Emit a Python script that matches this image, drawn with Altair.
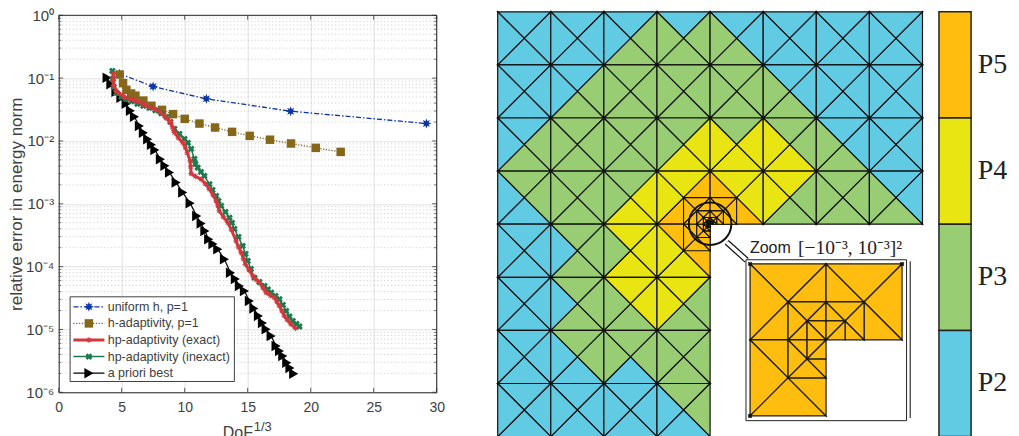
import altair as alt
import pandas as pd

# ---------- left chart values (x = DoF^(1/3), log10 of the relative error) ----------
uniform_x = [4.82, 7.49, 11.72, 18.41, 29.18]
uniform_l = [-0.93, -1.134, -1.33, -1.526, -1.723]
hadapt_x = [4.84, 5.11, 5.37, 5.75, 6.09, 6.72, 7.36, 8.2, 9.08, 10.0, 11.17, 12.41, 13.76, 15.16, 16.77, 18.44, 20.4, 22.38]
hadapt_l = [-0.943, -1.08, -1.186, -1.245, -1.28, -1.357, -1.44, -1.505, -1.573, -1.648, -1.723, -1.786, -1.855, -1.919, -1.98, -2.04, -2.11, -2.174]
exact_x = [4.34, 4.34, 4.38, 4.56, 4.82, 5.21, 5.61, 6.01, 6.40, 6.80, 7.20, 7.60, 7.99, 8.39, 8.63, 8.87, 9.02, 9.18, 9.5, 9.84, 10.06, 10.21, 10.43, 10.47, 10.51, 10.85, 11.30, 11.64, 11.96, 12.24, 12.49, 12.63, 12.75, 13.07, 13.41, 13.71, 14.08, 14.26, 14.48, 14.66, 14.82, 15.10, 15.40, 15.65, 15.93, 16.21, 16.46, 16.80, 17.12, 17.32, 17.52, 17.71, 17.91, 18.15, 18.44, 18.79]
exact_l = [-0.927, -1.043, -1.123, -1.202, -1.25, -1.298, -1.33, -1.35, -1.385, -1.425, -1.457, -1.494, -1.537, -1.60, -1.648, -1.707, -1.775, -1.866, -1.951, -2.025, -2.11, -2.19, -2.317, -2.412, -2.519, -2.564, -2.608, -2.683, -2.768, -2.858, -2.954, -3.033, -3.113, -3.209, -3.299, -3.416, -3.591, -3.686, -3.777, -3.877, -3.962, -4.053, -4.148, -4.204, -4.255, -4.339, -4.414, -4.459, -4.494, -4.562, -4.626, -4.705, -4.785, -4.849, -4.917, -4.981]
inexact_x = [4.26, 4.30, 4.38, 4.58, 4.98, 5.35, 5.77, 6.25, 6.72, 7.20, 7.67, 8.15, 8.55, 8.87, 9.18, 9.58, 9.98, 10.25, 10.51, 10.77, 10.85, 11.03, 11.29, 11.56, 11.96, 12.2, 12.49, 12.67, 12.89, 13.23, 13.55, 13.75, 13.94, 14.26, 14.6, 14.82, 15.0, 15.25, 15.53, 15.93, 16.33, 16.6, 16.86, 17.2, 17.52, 17.79, 18.05, 18.31, 18.57, 18.87, 19.1]
inexact_l = [-0.884, -1.011, -1.139, -1.234, -1.298, -1.334, -1.369, -1.409, -1.441, -1.473, -1.513, -1.561, -1.616, -1.696, -1.807, -1.887, -1.967, -2.03, -2.126, -2.285, -2.365, -2.424, -2.492, -2.556, -2.688, -2.779, -2.874, -2.954, -3.033, -3.129, -3.22, -3.304, -3.4, -3.527, -3.67, -3.798, -3.909, -4.037, -4.175, -4.244, -4.307, -4.363, -4.414, -4.467, -4.519, -4.61, -4.705, -4.793, -4.865, -4.912, -4.952]
best_x = [3.84, 4.14, 4.54, 4.94, 5.35, 5.69, 6.01, 6.40, 6.72, 7.06, 7.36, 7.63, 8.07, 8.43, 8.79, 9.32, 9.84, 10.43, 10.95, 11.3, 11.6, 11.9, 12.24, 12.62, 13.15, 13.63, 14.02, 14.34, 14.74, 15.13, 15.49, 15.85, 16.17, 16.46, 16.86, 17.25, 17.52, 17.78, 18.1, 18.35, 18.65]
best_l = [-0.995, -1.099, -1.218, -1.314, -1.409, -1.521, -1.616, -1.76, -1.871, -1.971, -2.062, -2.142, -2.29, -2.396, -2.503, -2.662, -2.822, -2.99, -3.193, -3.315, -3.432, -3.564, -3.639, -3.723, -3.882, -4.096, -4.196, -4.307, -4.387, -4.546, -4.666, -4.785, -4.896, -4.997, -5.104, -5.263, -5.342, -5.422, -5.529, -5.613, -5.704]

legend_labels = ["uniform h, p=1", "h-adaptivity, p=1", "hp-adaptivity (exact)", "hp-adaptivity (inexact)", "a priori best"]
x_ticks = [0, 5, 10, 15, 20, 25, 30]
y_decades = [1e-6, 1e-5, 1e-4, 1e-3, 1e-2, 1e-1, 1e0]
y_tick_labels = ["10⁻⁶", "10⁻⁵", "10⁻⁴", "10⁻³", "10⁻²", "10⁻¹", "10⁰"]
minor_multipliers = [2, 3, 4, 5, 6, 7, 8, 9]

# ---------- right chart values: polynomial degree of N,E,S,W triangle of each mesh square ----------
mesh_rows = [
    ["2222", "2222", "2332", "2333", "2233", "2222", "2222", "2222"],
    ["2222", "2332", "3333", "3333", "3333", "2233", "2222", "2222"],
    ["2332", "3333", "3333", "3443", "3444", "3344", "2233", "2222"],
    ["3322", "3333", "3443", "4554", "4455", "4334", "3333", "2233"],
    ["2222", "3332", "4443", "5544"],
    ["2222", "3332", "4433", "4334"],
    ["2222", "3322", "3323", "3333"],
    ["2222", "2222", "2222", "3322"],
]
degree_domain = ["2", "3", "4", "5"]
degree_colors = ["#61cbe4", "#98cd73", "#e9e512", "#ffbe0f"]
colorbar_labels = ["P5", "P4", "P3", "P2"]

# one ring of the refined L-shaped corner, in units of its half-size (y upwards)
ring = [
    [(-1, 1), (0, 1), (-.5, .5)], [(-1, 1), (-1, 0), (-.5, .5)], [(0, 1), (0, .5), (-.5, .5)],
    [(0, 1), (.5, .5), (0, .5)], [(0, 1), (1, 1), (.5, .5)], [(1, 1), (1, 0), (.5, .5)],
    [(1, 0), (.5, 0), (.5, .5)], [(-1, 0), (-.5, 0), (-.5, .5)], [(-1, 0), (-.5, 0), (-.5, -.5)],
    [(-1, 0), (-1, -1), (-.5, -.5)], [(-1, -1), (0, -1), (-.5, -.5)], [(0, -1), (0, -.5), (-.5, -.5)],
]
fan = [
    [(-1, 1), (0, 1), (0, 0)], [(-1, 1), (-1, 0), (0, 0)], [(0, 1), (1, 1), (0, 0)],
    [(1, 1), (1, 0), (0, 0)], [(-1, 0), (-1, -1), (0, 0)], [(-1, -1), (0, -1), (0, 0)],
]
main_levels = [.5, .25, .125, .0625, .03125]
inset_levels = [1, .5]

TXT = "#404040"
SANS = "Liberation Sans"
SERIF = "Liberation Serif"
W, H = 378, 377
star = "M0,-1L.2,-.45L.7,-.7L.45,-.2L1,0L.45,.2L.7,.7L.2,.45L0,1L-.2,.45L-.7,.7L-.45,.2L-1,0L-.45,-.2L-.7,-.7L-.2,-.45Z"

x_scale = alt.Scale(domain=[0, 30], nice=False, zero=False)
y_scale = alt.Scale(type="log", domain=[1e-6, 1], nice=False)
one = pd.DataFrame({"a": [0]})
label_expr = "[" + ",".join("'%s'" % s for s in y_tick_labels) + "][round(log(datum.value)/LN10)+6]"
x_axis = alt.Axis(values=x_ticks, grid=True, gridColor="#e2e2e2", gridWidth=1, tickSize=0, labelPadding=8,
                  labelFontSize=14, labelFont=SANS, labelColor=TXT, domainColor="#262626", domainWidth=1,
                  format="d", labelFlush=False, title=None)
y_axis = alt.Axis(values=y_decades, grid=True, gridColor="#e2e2e2", gridWidth=1, tickSize=0, labelPadding=5,
                  labelFontSize=15, labelFont=SANS, labelColor=TXT, domainColor="#262626", domainWidth=1,
                  labelExpr=label_expr, title="relative error in energy norm", titleFont=SANS, titleFontSize=17,
                  titleFontWeight="normal", titleColor=TXT, titlePadding=0, labelFlush=False)
X = alt.X("x:Q", scale=x_scale, axis=x_axis)
Y = alt.Y("y:Q", scale=y_scale, axis=y_axis)


def frame(xs, ls):
    return pd.DataFrame({"x": xs, "y": [10 ** v for v in ls]})


styles = [
    dict(color="#0b36a8", width=1.3, dash=[5, 2, 1.5, 2], shape=star, size=100),
    dict(color="#86671a", width=1.3, dash=[1.2, 1.6], shape="square", size=72),
    dict(color="#d2383c", width=3, dash=[1, 0], shape=star, size=48),
    dict(color="#1c7a4e", width=1.5, dash=[1, 0], shape="cross", size=48),
    dict(color="#000000", width=1.2, dash=[1, 0], shape="triangle-right", size=110),
]
series = [(uniform_x, uniform_l), (hadapt_x, hadapt_l), (exact_x, exact_l), (inexact_x, inexact_l), (best_x, best_l)]

layers = []
minors = [d * m for d in y_decades[:-1] for m in minor_multipliers]
minor_df = pd.DataFrame({"y": minors})
layers.append(alt.Chart(minor_df).mark_rule(color="#b5b5b5", strokeWidth=0.7, strokeDash=[1, 2.5]).encode(
    x=alt.value(0), x2=alt.value(W), y=Y))
for x0, x1 in [(0, 2.5), (W - 2.5, W)]:
    layers.append(alt.Chart(minor_df).mark_rule(color="#333333", strokeWidth=0.7).encode(
        x=alt.value(x0), x2=alt.value(x1), y=Y))
for x0, x1 in [(0, 4.5), (W - 4.5, W)]:
    layers.append(alt.Chart(pd.DataFrame({"y": y_decades})).mark_rule(color="#333333", strokeWidth=0.8).encode(
        x=alt.value(x0), x2=alt.value(x1), y=Y))
for y0, y1 in [(0, 4.5), (H - 4.5, H)]:
    layers.append(alt.Chart(pd.DataFrame({"x": x_ticks})).mark_rule(color="#333333", strokeWidth=0.8).encode(
        y=alt.value(y0), y2=alt.value(y1), x=X))
layers.append(alt.Chart(one).mark_rule(color="#262626", strokeWidth=1).encode(x=alt.value(0), x2=alt.value(W), y=alt.value(0)))
layers.append(alt.Chart(one).mark_rule(color="#262626", strokeWidth=1).encode(x=alt.value(W), y=alt.value(0), y2=alt.value(H)))

for idx in [4, 0, 1, 3, 2]:
    st = styles[idx]
    df = frame(*series[idx])
    layers.append(alt.Chart(df).mark_line(color=st["color"], strokeWidth=st["width"], strokeDash=st["dash"]).encode(x=X, y=Y))
    angle = 45 if st["shape"] == "cross" else 0
    layers.append(alt.Chart(df).mark_point(shape=st["shape"], size=st["size"], filled=True, opacity=1,
                                           color=st["color"], angle=angle).encode(x=X, y=Y))

LX0, LX1, LY0, LY1 = 11.4, 175.7, 281.5, 366.2
layers.append(alt.Chart(one).mark_rect(fill="white", stroke="#404040", strokeWidth=1).encode(
    x=alt.value(LX0), x2=alt.value(LX1), y=alt.value(LY0), y2=alt.value(LY1)))
for i, label in enumerate(legend_labels):
    st = styles[i]
    ly = 291.5 + 16.6 * i
    layers.append(alt.Chart(one).mark_rule(color=st["color"], strokeWidth=st["width"], strokeDash=st["dash"]).encode(
        x=alt.value(14.7), x2=alt.value(45.7), y=alt.value(ly)))
    angle = 45 if st["shape"] == "cross" else 0
    layers.append(alt.Chart(one).mark_point(shape=st["shape"], size=st["size"], filled=True, opacity=1, color=st["color"], angle=angle).encode(
        x=alt.value(30.2), y=alt.value(ly)))
    layers.append(alt.Chart(pd.DataFrame({"t": [label]})).mark_text(align="left", baseline="middle", font=SANS, fontSize=12.5, color=TXT).encode(
        x=alt.value(49), y=alt.value(ly), text="t:N"))

layers.append(alt.Chart(pd.DataFrame({"t": ["DoF"]})).mark_text(align="left", baseline="middle", font=SANS, fontSize=16, color=TXT).encode(
    x=alt.value(164), y=alt.value(417.5), text="t:N"))
layers.append(alt.Chart(pd.DataFrame({"t": ["1/3"]})).mark_text(align="left", baseline="middle", font=SANS, fontSize=13, color=TXT).encode(
    x=alt.value(195), y=alt.value(412), text="t:N"))

left = alt.layer(*layers).properties(width=W, height=H)

# ---------- right panel ----------
proj = dict(type="identity", scale=53.1, translate=[21, -3.5])


def poly(points, **props):
    ring_pts = [list(p) for p in points] + [list(points[0])]
    return {"type": "Feature", "properties": props, "geometry": {"type": "Polygon", "coordinates": [ring_pts]}}


def seg(a, b):
    return {"type": "Feature", "properties": {}, "geometry": {"type": "LineString", "coordinates": [list(a), list(b)]}}


tris = []
for j, row in enumerate(mesh_rows):
    for i, cell in enumerate(row):
        c = (i + .5, j + .5)
        nw, ne, se, sw = (i, j), (i + 1, j), (i + 1, j + 1), (i, j + 1)
        for corner, d in zip([(nw, ne), (ne, se), (se, sw), (sw, nw)], cell):
            tris.append(poly([corner[0], corner[1], c], p=d))


def shapes(levels, cx, cy, k):
    out = []
    for s in levels:
        for t in ring:
            out.append(poly([(cx + k * s * u, cy - k * s * v) for u, v in t], p="5"))
    s = levels[-1] / 2
    for t in fan:
        out.append(poly([(cx + k * s * u, cy - k * s * v) for u, v in t], p="5"))
    return out


color = alt.Color("properties.p:N", scale=alt.Scale(domain=degree_domain, range=degree_colors), legend=None)


def geo(features, **kw):
    return alt.Chart(alt.Data(values=features)).mark_geoshape(clip=False, **kw).project(**proj)


ICX, ICY, IK = 6.184, 6.18, 1.431
r = []
r.append(geo(tris, stroke="#111111", strokeWidth=1.2).encode(color=color))
r.append(geo(shapes(main_levels, 4, 4, 1), stroke="#111111", strokeWidth=1.1).encode(color=color))
r.append(alt.Chart(pd.DataFrame({"lon": [4.0], "lat": [3.99]})).mark_point(size=1810, shape="circle", filled=False, color="#111111", strokeWidth=2, opacity=1).encode(
    longitude="lon:Q", latitude="lat:Q").project(**proj))
handle = [seg((4.313, 4.34), (4.69, 4.68))]
r.append(geo(handle, filled=False, stroke="#111111", strokeWidth=6))
r.append(geo(handle, filled=False, stroke="white", strokeWidth=3.6))
r.append(geo([poly([(4.676, 4.67), (7.70, 4.67), (7.70, 7.70), (4.676, 7.70)])], fill="white", stroke="#222222", strokeWidth=1))
r.append(geo([seg((7.77, 4.70), (7.77, 7.65))], filled=False, stroke="#555555", strokeWidth=1.5))
r.append(geo(shapes(inset_levels, ICX, ICY, IK), stroke="#1a1a1a", strokeWidth=1.2).encode(color=color))
r.append(alt.Chart(pd.DataFrame({"lon": [ICX - IK, ICX + IK, ICX - IK], "lat": [ICY - IK, ICY - IK, ICY + IK]})).mark_point(
    shape="cross", angle=45, size=22, filled=True, color="#111111", opacity=1).encode(longitude="lon:Q", latitude="lat:Q").project(**proj))
bar = [poly([(8.31, k * 2), (8.915, k * 2), (8.915, k * 2 + 2), (8.31, k * 2 + 2)], p=d)
       for k, d in enumerate(["5", "4", "3", "2"])]
r.append(geo(bar, stroke="#222222", strokeWidth=1.5).encode(color=color))
r.append(alt.Chart(pd.DataFrame({"t": colorbar_labels, "lon": [9.04] * 4, "lat": [1.0, 3.0, 5.0, 7.0]})).mark_text(
    align="left", baseline="middle", font=SERIF, fontSize=28, color="#222222").encode(
    longitude="lon:Q", latitude="lat:Q", text="t:N").project(**proj))
r.append(alt.Chart(pd.DataFrame({"t": ["Zoom"], "lon": [4.75], "lat": [4.44]})).mark_text(
    align="left", baseline="middle", font=SANS, fontSize=16, color="#222222").encode(
    longitude="lon:Q", latitude="lat:Q", text="t:N").project(**proj))
r.append(alt.Chart(pd.DataFrame({"t": ["[−10⁻³, 10⁻³]²"], "lon": [5.655], "lat": [4.44]})).mark_text(
    align="left", baseline="middle", font=SERIF, fontSize=19.5, color="#222222").encode(
    longitude="lon:Q", latitude="lat:Q", text="t:N").project(**proj))

right = alt.layer(*r).properties(width=531, height=421)

chart = alt.hconcat(left, right, spacing=40, bounds="flush").properties(
    padding={"left": -1.3, "top": 0.3, "right": 0, "bottom": 0}
).configure_view(stroke=None)

chart.save("out.html", embed_options={"renderer": "svg", "actions": False})
